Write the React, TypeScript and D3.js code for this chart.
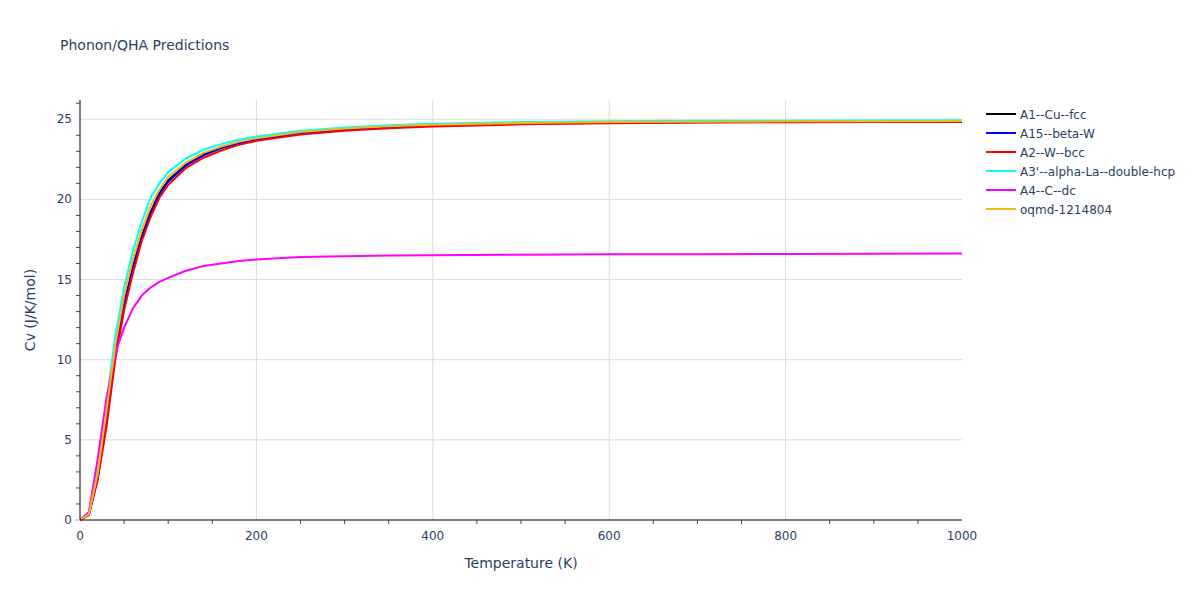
import React from "react";
import * as d3 from "d3";

const temperatures = [0, 10, 20, 30, 40, 50, 60, 70, 80, 90, 100, 120, 140, 160, 180, 200, 250, 300, 350, 400, 500, 600, 700, 800, 900, 1000];

const cuFcc = [0, 0.33, 2.65, 6.2, 10.4, 13.5, 15.8, 17.7, 19.2, 20.4, 21.2, 22.15, 22.8, 23.22, 23.52, 23.75, 24.14, 24.35, 24.5, 24.61, 24.73, 24.79, 24.82, 24.84, 24.85, 24.86];
const betaW = [0, 0.32, 2.6, 6.1, 10.3, 13.4, 15.7, 17.6, 19.1, 20.3, 21.1, 22.1, 22.75, 23.2, 23.5, 23.73, 24.12, 24.34, 24.48, 24.6, 24.72, 24.78, 24.81, 24.83, 24.84, 24.85];
const wBcc = [0, 0.3, 2.5, 5.8, 10.0, 13.1, 15.4, 17.4, 18.9, 20.1, 20.9, 21.95, 22.6, 23.05, 23.4, 23.65, 24.05, 24.28, 24.43, 24.55, 24.68, 24.75, 24.79, 24.81, 24.83, 24.84];
const laDhcp = [0, 0.45, 3.2, 7.3, 11.5, 14.5, 16.8, 18.6, 20.1, 21.0, 21.7, 22.55, 23.1, 23.45, 23.72, 23.92, 24.28, 24.48, 24.62, 24.72, 24.82, 24.87, 24.9, 24.91, 24.92, 24.93];
const cDc = [0, 0.5, 3.8, 7.6, 10.4, 12.0, 13.2, 14.0, 14.5, 14.85, 15.1, 15.55, 15.85, 16.0, 16.15, 16.25, 16.4, 16.45, 16.5, 16.52, 16.55, 16.57, 16.58, 16.6, 16.61, 16.62];
const oqmd = [0, 0.35, 2.9, 6.8, 10.9, 14.0, 16.3, 18.1, 19.6, 20.6, 21.4, 22.3, 22.9, 23.3, 23.6, 23.82, 24.2, 24.42, 24.56, 24.66, 24.77, 24.82, 24.85, 24.87, 24.88, 24.89];

const seriesNames = ["A1--Cu--fcc", "A15--beta-W", "A2--W--bcc", "A3'--alpha-La--double-hcp", "A4--C--dc", "oqmd-1214804"];
const seriesValues = [cuFcc, betaW, wBcc, laDhcp, cDc, oqmd];
const seriesColors = ["#000000", "#0000ff", "#ff0000", "#00ffff", "#ff00ff", "#ecbc1c"];

const xTicks = [0, 200, 400, 600, 800, 1000];
const yTicks = [0, 5, 10, 15, 20, 25];

const FONT = "'DejaVu Sans', Verdana, sans-serif";
const TEXT = "#2a3f5f";

export default function App() {
  const W = 1200, H = 600;
  const left = 80, right = 962, top = 100, bottom = 520;
  const x = d3.scaleLinear().domain([0, 1000]).range([left, right]);
  const y = d3.scaleLinear().domain([0, 26.2]).range([bottom, top]);

  const line = d3.line<number>()
    .x((_, i) => x(temperatures[i]))
    .y((d) => y(d));

  const xMinor = d3.range(50, 1000, 50).filter((v) => v % 200 !== 0);
  const yMinor = d3.range(1, 27, 1).filter((v) => v % 5 !== 0 && v <= 26);

  return (
    <svg width={W} height={H} style={{ position: "absolute", left: 0, top: 0, background: "#fff" }} fontFamily={FONT}>
      <rect x={0} y={0} width={W} height={H} fill="#fff" />
      <text x={60} y={50} fontSize={14} fill={TEXT}>Phonon/QHA Predictions</text>

      {xTicks.filter((t) => t > 0 && t < 1000).map((t) => (
        <line key={"gx" + t} x1={x(t)} x2={x(t)} y1={top} y2={bottom} stroke="#dadada" strokeWidth={1} />
      ))}
      {yTicks.filter((t) => t > 0).map((t) => (
        <line key={"gy" + t} x1={left} x2={right} y1={y(t)} y2={y(t)} stroke="#dadada" strokeWidth={1} />
      ))}

      <defs>
        <clipPath id="clip">
          <rect x={left} y={top - 2} width={right - left + 2} height={bottom - top + 4} />
        </clipPath>
      </defs>
      <g clipPath="url(#clip)">
        {seriesValues.map((vals, i) => (
          <path key={seriesNames[i]} d={line(vals) || ""} fill="none" stroke={seriesColors[i]} strokeWidth={2} strokeLinejoin="round" />
        ))}
      </g>

      <line x1={left} x2={right} y1={bottom} y2={bottom} stroke="#000" strokeWidth={1} />
      <line x1={left} x2={left} y1={top} y2={bottom} stroke="#000" strokeWidth={1} />
      {xMinor.map((t) => (
        <line key={"mx" + t} x1={x(t)} x2={x(t)} y1={bottom} y2={bottom + 4} stroke="#444" strokeWidth={1} />
      ))}
      {yMinor.map((t) => (
        <line key={"my" + t} x1={left - 4} x2={left} y1={y(t)} y2={y(t)} stroke="#444" strokeWidth={1} />
      ))}
      <line x1={left - 5} x2={left} y1={bottom} y2={bottom} stroke="#aaa" strokeWidth={1} />

      {xTicks.map((t) => (
        <text key={"tx" + t} x={x(t)} y={bottom + 20} fontSize={12} fill={TEXT} textAnchor="middle">{t}</text>
      ))}
      {yTicks.map((t) => (
        <text key={"ty" + t} x={left - 8} y={y(t) + 4} fontSize={12} fill={TEXT} textAnchor="end">{t}</text>
      ))}

      <text x={(left + right) / 2} y={568} fontSize={14} fill={TEXT} textAnchor="middle">Temperature (K)</text>
      <text transform={`translate(35, ${(top + bottom) / 2}) rotate(-90)`} fontSize={14} fill={TEXT} textAnchor="middle">Cv (J/K/mol)</text>

      {seriesNames.map((n, i) => (
        <g key={"lg" + n} transform={`translate(986, ${114 + i * 19})`}>
          <line x1={0} x2={30} y1={0} y2={0} stroke={seriesColors[i]} strokeWidth={2} />
          <text x={34} y={4.5} fontSize={12} fill={TEXT}>{n}</text>
        </g>
      ))}
    </svg>
  );
}
